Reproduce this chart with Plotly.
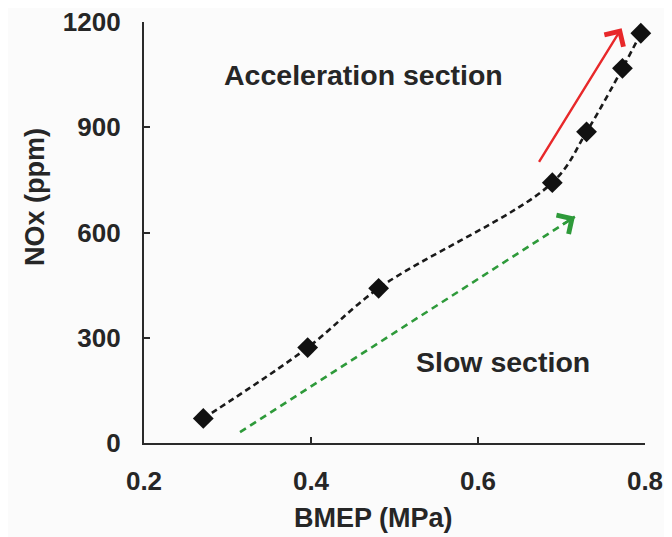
import plotly.graph_objects as go

# Data
bmep = [0.271, 0.396, 0.481, 0.689, 0.730, 0.773, 0.795]
nox = [70, 272, 441, 742, 887, 1068, 1168]

x_ticks = [0.2, 0.4, 0.6, 0.8]
x_tick_labels = ["0.2", "0.4", "0.6", "0.8"]
y_ticks = [0, 300, 600, 900, 1200]
y_tick_labels = ["0", "300", "600", "900", "1200"]

slow_arrow_x = [0.315, 0.716]
slow_arrow_y = [31, 645]
acc_arrow_x = [0.672, 0.772]
acc_arrow_y = [797, 1182]

labels = ["Acceleration section", "Slow section"]
label_x = [0.463, 0.63]
label_y = [1050, 230]

TXT = "#262626"
FONT = "Liberation Sans"

# page body adds an 8px offset; compensate so the plot lands where the reference has it
OFF = 8
L, R, T, B = 144, 27, 22, 94
PW, PH = 672 - L - R, 537 - T - B

fig = go.Figure()

fig.add_trace(go.Scatter(
    x=bmep, y=nox, mode="lines+markers",
    line=dict(color="#1a1a1a", width=2.6, dash="6px,4px", shape="spline", smoothing=1.0),
    marker=dict(symbol="diamond", size=16, color="#111111"),
    cliponaxis=False, showlegend=False,
))

# green dashed arrow body
fig.add_shape(type="line", xref="x", yref="y",
              x0=slow_arrow_x[0], y0=slow_arrow_y[0],
              x1=slow_arrow_x[1], y1=slow_arrow_y[1],
              line=dict(color="#2e9a3a", width=2.6, dash="7px,5px"))

def head(xs, ys, color, frac):
    tx = xs[1] - (xs[1] - xs[0]) * frac
    ty = ys[1] - (ys[1] - ys[0]) * frac
    return dict(x=xs[1], y=ys[1], ax=tx, ay=ty, xref="x", yref="y",
                axref="x", ayref="y", showarrow=True, arrowhead=4,
                arrowsize=1.8, arrowwidth=2.4, arrowcolor=color, text="")

fig.add_annotation(**head(slow_arrow_x, slow_arrow_y, "#2e9a3a", 0.04))
fig.add_annotation(**head(acc_arrow_x, acc_arrow_y, "#e8282a", 1.0))

for t, lx, ly in zip(labels, label_x, label_y):
    fig.add_annotation(x=lx, y=ly, xref="x", yref="y", text=t, showarrow=False,
                       xanchor="center", yanchor="middle",
                       font=dict(family=FONT, size=28.5, color=TXT, weight="bold"))

# axis titles placed as annotations
fig.add_annotation(text="BMEP (MPa)", xref="x domain", yref="y domain",
                   x=(373 - L) / PW, y=-(518 - (T + PH)) / PH, showarrow=False,
                   xanchor="center", yanchor="middle",
                   font=dict(family=FONT, size=27, color=TXT, weight="bold"))
fig.add_annotation(text="NOx (ppm)", xref="x domain", yref="y domain",
                   x=-(L - 35) / PW, y=((T + PH) - 197) / PH, textangle=-90,
                   showarrow=False, xanchor="center", yanchor="middle",
                   font=dict(family=FONT, size=27, color=TXT, weight="bold"))

axis_common = dict(showline=True, linecolor="#2a2a2a", linewidth=2.2,
                   ticks="inside", ticklen=6, tickwidth=2, tickcolor="#2a2a2a",
                   showgrid=False, zeroline=False, automargin=False,
                   ticklabeloverflow="allow",
                   tickfont=dict(family=FONT, size=26, color=TXT, weight="bold"))

fig.update_xaxes(range=[0.2, 0.8], tickvals=x_ticks, ticktext=x_tick_labels,
                 ticklabelstandoff=14, **axis_common)
fig.update_yaxes(range=[0, 1200], tickvals=y_ticks, ticktext=y_tick_labels,
                 ticklabelstandoff=16, **axis_common)

fig.update_layout(
    width=672 - OFF, height=537 - OFF,
    margin=dict(l=L - OFF, r=R, t=T - OFF, b=B),
    paper_bgcolor="#fbfbfb", plot_bgcolor="#fbfbfb",
)

fig.write_html("out.html")
